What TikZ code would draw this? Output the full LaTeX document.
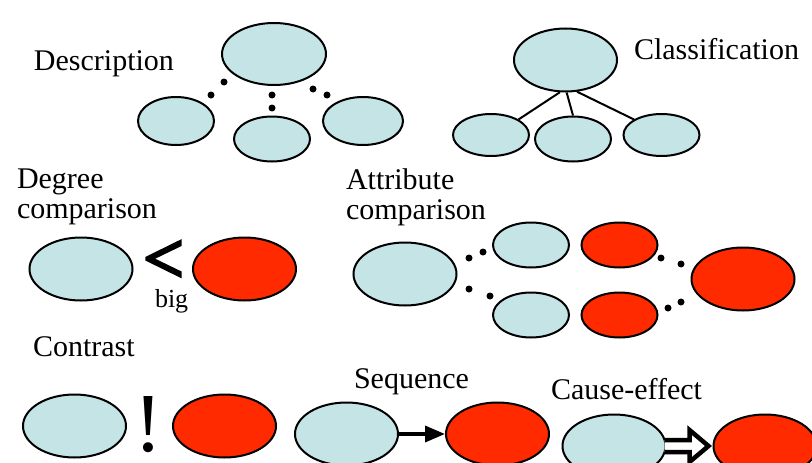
\documentclass[tikz,border=0pt]{standalone}
\usepackage{fontspec}
\setmainfont{Liberation Serif}
\newfontfamily\heavyserif[FakeBold=4]{Liberation Serif}
\usetikzlibrary{arrows.meta,shapes.geometric,positioning,calc}
\definecolor{paleblue}{RGB}{196,228,230}
\definecolor{hotred}{RGB}{255,42,0}

\begin{document}
\begin{tikzpicture}[x=1pt,y=-1pt,line width=2pt,
  big/.style={ellipse,draw,inner sep=0pt,minimum width=103pt,minimum height=63pt},
  small/.style={ellipse,draw,inner sep=0pt,minimum width=76pt,minimum height=45pt},
  cool/.style={fill=paleblue},
  hot/.style={fill=hotred},
  caption/.style={anchor=base west,inner sep=0pt,font=\fontsize{30}{30}\selectfont},
  sym/.style={inner sep=0pt,font=\fontsize{84}{84}\selectfont}]
  \useasboundingbox (0,0) rectangle (812,463);

    % description
    \node[big,cool,minimum width=104pt,minimum height=62pt] (DESC) at (274,54) {};
    \node[small,cool,minimum height=48pt] (DESCA) at (176,121) {};
    \node[small,cool] (DESCB) at (272,139) {};
    \node[small,cool,minimum width=80pt,minimum height=48pt] (DESCC) at (363,121) {};
    \node[caption] (DESCL) at (33,70) {Description};
    \foreach \p in {(224,82),(211,95),(272,95),(272,108),(313,89),(327,95)}
      \fill \p circle (3.5);

    % classification
    \node[big,cool] (CLASS) at (565.5,60) {};
    \node[small,cool,minimum height=42pt] (CLASSA) at (491,135) {};
    \node[small,cool] (CLASSB) at (573,139) {};
    \node[small,cool,minimum height=42pt] (CLASSC) at (661.5,135) {};
    \node[caption] (CLASSL) at (633,59) {Classification};
    \draw (CLASS.-100) -- (CLASSA.north east)
          (CLASS.-88) -- (CLASSB.north)
          (CLASS.-70) -- (CLASSC.north west);

    % degree comparison
    \node[caption] (DEGL) at (16,188) {Degree};
    \node[caption] (DEGM) at (16,218) {comparison};
    \node[big,cool] (DEGA) at (81,269) {};
    \node[big,hot] (DEGB) at (244.5,269) {};
    \node[sym,font=\fontsize{72}{72}\heavyserif] (LESS) at (163.5,262) {<};
    \node[caption,font=\fontsize{26}{26}\selectfont] (BIG) at (154,307) {big};

    % attribute comparison
    \node[caption] (ATTRL) at (345,189) {Attribute};
    \node[caption] (ATTRM) at (345,219) {comparison};
    \node[big,cool] (ATTR) at (405,274) {};
    \node[small,cool] (ATTRA) at (531,245) {};
    \node[small,hot] (ATTRB) at (619.5,245) {};
    \node[small,cool] (ATTRC) at (531,315) {};
    \node[small,hot] (ATTRD) at (619.5,315) {};
    \node[big,hot] (ATTRE) at (743,279) {};
    \foreach \p in {(469,258),(483,252),(469,289),(490,296),(661,258),(681,264),(668,308),(681,302)}
      \fill \p circle (3.5);

    % contrast
    \node[caption] (CONL) at (32,356) {Contrast};
    \node[big,cool] (CONA) at (74.5,426) {};
    \node[sym] (BANG) at (148.5,425) {!};
    \node[big,hot] (CONB) at (224.5,426) {};

    % sequence
    \node[caption] (SEQL) at (353,388) {Sequence};
    \node[big,cool] (SEQA) at (346.5,434) {};
    \node[big,hot] (SEQB) at (497.5,434) {};
    \draw[line width=3.5pt,-{Triangle[length=20pt,width=16pt]}] (SEQA.east) -- (SEQB.west);

    % cause-effect
    \node[caption] (CAUSEL) at (550,399) {Cause-effect};
    \node[big,cool] (CAUSEA) at (614,446) {};
    \node[big,hot] (CAUSEB) at (765,446) {};
    \draw[line width=4.5pt,fill=white,line join=miter]
      ($(CAUSEA.east)+(-2,-6)$) -- ++(25,0) -- ++(0,-10) -- ($(CAUSEB.west)+(-4,0)$)
      -- ($(CAUSEA.east)+(23,16)$) -- ++(0,-10) -- ++(-25,0);

\end{tikzpicture}
\end{document}
